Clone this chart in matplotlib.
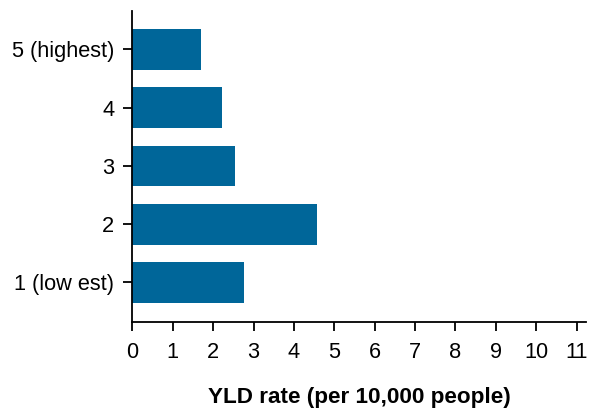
import matplotlib
matplotlib.use("Agg")
import matplotlib.pyplot as plt

categories = ["1 (low est)", "2", "3", "4", "5 (highest)"]
yld_rate = [2.76, 4.57, 2.54, 2.21, 1.70]
x_ticks = list(range(0, 12))

plt.rcParams['font.family'] = ['Liberation Sans', 'DejaVu Sans']

fig = plt.figure(figsize=(5.91, 4.09), dpi=100)
ax = fig.add_axes([0.2239, 0.2127, 0.9915 - 0.2239, 0.9731 - 0.2127])

ax.barh(range(len(categories)), yld_rate, height=0.70, color='#006699')

ax.set_xlim(0, 11.23)
ax.set_ylim(-0.68, 4.66)
ax.set_xticks(x_ticks)
ax.set_yticks(range(len(categories)))
ax.set_yticklabels(categories)

for side in ['top', 'right']:
    ax.spines[side].set_visible(False)
for side in ['left', 'bottom']:
    ax.spines[side].set_linewidth(1.3)

ax.tick_params(axis='both', direction='out', length=6.5, width=1.3, labelsize=15.7, colors='black')
ax.tick_params(axis='x', pad=8)
ax.tick_params(axis='y', pad=6.5)

ax.set_xlabel('YLD rate (per 10,000 people)', fontsize=16.2, fontweight='bold', labelpad=17)

fig.savefig('out.png', dpi=100)
